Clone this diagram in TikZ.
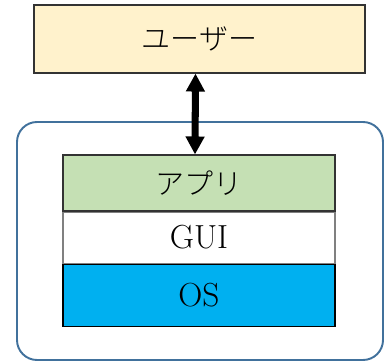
\documentclass[tikz,border=0pt]{standalone}
\usepackage{fontspec}
\newfontfamily\jpfont{Noto Sans CJK JP Light}
\usetikzlibrary{positioning,arrows.meta}
\definecolor{userfill}{HTML}{FFF2CC}
\definecolor{appfill}{HTML}{C5E0B4}
\definecolor{osfill}{HTML}{00B0F0}
\definecolor{framecol}{HTML}{41719C}
\begin{document}
\begin{tikzpicture}[>={Triangle[width=0.36cm,length=0.36cm]},
        layer/.style={rectangle,draw=black!80,line width=0.6pt,minimum width=5.44cm,
          inner sep=0pt,font=\fontsize{19}{23}\selectfont},
        jp/.style={font=\fontsize{16.5}{20}\selectfont\jpfont},
        frame/.style={rectangle,rounded corners=0.4cm,draw=framecol,line width=1.1pt}]
        \useasboundingbox (0,0) rectangle (7.68,-7.22);
        \node[frame,minimum width=7.32cm,minimum height=4.76cm] (sys) at (4.0,-4.82) {};
        \node[layer,jp,fill=userfill,minimum width=6.62cm,minimum height=1.36cm] (user) at (3.99,-0.78) {ユーザー};
        \node[layer,jp,fill=appfill,minimum height=1.12cm] (app) at (3.98,-3.66) {アプリ};
        \node[layer,fill=white,draw=black!50,minimum height=1.02cm] (gui) [below=0pt of app] {GUI};
        \node[layer,fill=osfill,draw=black,minimum height=1.24cm] (os) [below=0pt of gui] {OS};
        \draw[<->,line width=4pt] ([xshift=-0.08cm]user.south) -- ([xshift=-0.08cm]app.north);
\end{tikzpicture}
\end{document}
